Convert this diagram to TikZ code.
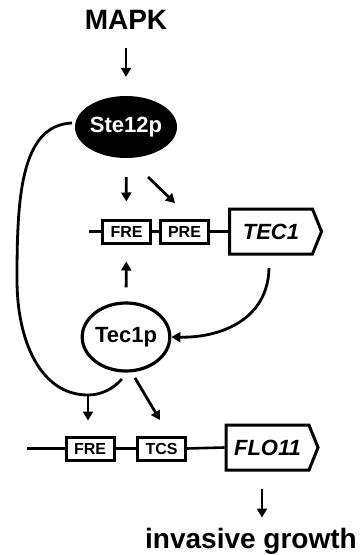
\documentclass[tikz,border=0pt]{standalone}
\usepackage{fontspec}
\setmainfont{Liberation Sans}
\usetikzlibrary{arrows.meta,shapes.geometric,shapes.symbols}
\tikzset{
  arr/.style={line width=2.8pt,-{Triangle[length=9pt,width=10pt]}},
  wire/.style={line width=2.6pt},
  elem/.style={draw,line width=3pt,rectangle,minimum width=48pt,minimum height=23pt,inner sep=0pt,font=\fontsize{16}{16}\selectfont\bfseries},
  gene/.style={draw,line width=3pt,signal,signal to=east,signal pointer angle=136,minimum width=92pt,minimum height=45pt,inner sep=0pt,font=\fontsize{22}{22}\selectfont\bfseries\itshape},
  big/.style={inner sep=0pt,font=\fontsize{28}{28}\selectfont\bfseries},
}
\begin{document}
\begin{tikzpicture}[x=1pt,y=-1pt]
\useasboundingbox (0,0) rectangle (363,555);
% labels
\node[big,anchor=base] (mapk) at (126,29) {MAPK};
\node[big,anchor=base west] (ig) at (145,548) {invasive growth};
% proteins
\node[ellipse,fill=black,minimum width=88pt,minimum height=62pt,inner sep=0pt,text=white,font=\fontsize{22}{22}\selectfont\bfseries] (ste) at (126,127) {Ste12p};
\node[ellipse,draw,line width=3.2pt,minimum width=86pt,minimum height=68pt,inner sep=0pt,font=\fontsize{22}{22}\selectfont\bfseries] (tec) at (126,337) {Tec1p};
% promoter 1
\node[elem] (fre1) at (126.5,231.5) {FRE};
\node[elem] (pre1) at (184.5,231.5) {PRE};
\node[gene] (tec1) at (271,231.5) {TEC1};
\coordinate (s1) at (89,231.5);
\draw[wire] (s1) -- (fre1.west);
\draw[wire] (fre1.east) -- (pre1.west);
\draw[wire] (pre1.east) -- (tec1.west);
% promoter 2
\node[elem] (fre2) at (90,448.5) {FRE};
\node[elem] (tcs2) at (161.5,448.5) {TCS};
\node[gene] (flo) at (267.5,447.5) {FLO11};
\coordinate (s2) at (27,448.5);
\draw[wire,line width=2.2pt] (s2) -- (fre2.west);
\draw[wire] (fre2.east) -- (tcs2.west);
\draw[wire] (tcs2.east) -- (flo.west);
% arrows
\draw[arr,shorten <=19pt,shorten >=19pt] (mapk.south) -- (ste.north);
\draw[arr,shorten <=19pt,shorten >=17pt] (ste.south) -- (fre1.north);
\coordinate (d1a) at (148,177);
\coordinate (d1b) at (175,203);
\draw[arr] (d1a) -- (d1b);
\draw[arr,shorten <=14pt,shorten >=17pt] (tec.north) -- (fre1.south);
\coordinate (c1) at (269,268);
\draw[arr] (c1) .. controls (268,320) and (220,338) .. (tec.east);
% feedback from Ste12p
\coordinate (j) at (88,395);
\coordinate (sl) at (72,123);
\coordinate (tb) at (122,379);
\draw[wire,line width=2.8pt] (sl) .. controls (20,125) and (17,200) .. (17,280)
  .. controls (17,340) and (40,395) .. (j)
  .. controls (100,395) and (112,390) .. (tb);
\draw[arr,shorten >=15pt] (j) -- (fre2.north -| j);
\coordinate (d2a) at (135,378);
\coordinate (d2b) at (160,420);
\draw[arr] (d2a) -- (d2b);
\draw[arr,shorten <=17pt,shorten >=10pt] (flo.south -| 262,0) -- (ig.north -| 262,0);
\end{tikzpicture}
\end{document}
